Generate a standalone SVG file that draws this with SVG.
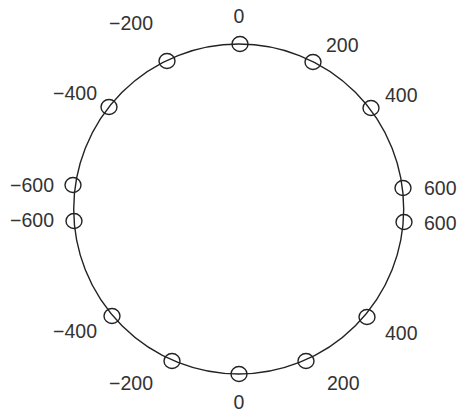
<svg xmlns="http://www.w3.org/2000/svg" width="461" height="414" viewBox="0 0 461 414">
<style>
.ring{fill:none;stroke:#222;stroke-width:1.4}
.n{fill:none;stroke:#222;stroke-width:1.4}
text{font-family:"Liberation Sans",Arial,sans-serif;font-size:19.5px;fill:#333}
.e{text-anchor:end}
.m{text-anchor:middle}
</style>
<rect width="461" height="414" fill="#fff"/>
<g id="connectors">
<circle class="ring" cx="238.7" cy="209" r="165"/>
</g>
<g id="n-top0"><ellipse class="n" cx="240" cy="44" rx="8" ry="7.5"/><text class="m" x="239" y="23">0</text></g>
<g id="n-top200"><ellipse class="n" cx="313" cy="62" rx="8" ry="7.5"/><text x="326" y="52">200</text></g>
<g id="n-top400"><ellipse class="n" cx="371" cy="108" rx="8" ry="7.5"/><text x="385" y="102">400</text></g>
<g id="n-r600a"><ellipse class="n" cx="403" cy="188" rx="8" ry="7.5"/><text x="424" y="195">600</text></g>
<g id="n-r600b"><ellipse class="n" cx="404" cy="222" rx="8" ry="7.5"/><text x="424" y="230">600</text></g>
<g id="n-bot400"><ellipse class="n" cx="367" cy="317" rx="8" ry="7.5"/><text x="385" y="340">400</text></g>
<g id="n-bot200"><ellipse class="n" cx="306" cy="361" rx="8" ry="7.5"/><text x="327" y="390">200</text></g>
<g id="n-bot0"><ellipse class="n" cx="239" cy="374" rx="8" ry="7.5"/><text class="m" x="239" y="409">0</text></g>
<g id="n-botm200"><ellipse class="n" cx="172" cy="361" rx="8" ry="7.5"/><text class="e" x="153" y="390">−200</text></g>
<g id="n-botm400"><ellipse class="n" cx="112" cy="316" rx="8" ry="7.5"/><text class="e" x="97" y="338">−400</text></g>
<g id="n-lm600b"><ellipse class="n" cx="74" cy="221" rx="8" ry="7.5"/><text class="e" x="54" y="227">−600</text></g>
<g id="n-lm600a"><ellipse class="n" cx="73" cy="185" rx="8" ry="7.5"/><text class="e" x="54" y="192">−600</text></g>
<g id="n-topm400"><ellipse class="n" cx="109" cy="107" rx="8" ry="7.5"/><text class="e" x="97" y="100">−400</text></g>
<g id="n-topm200"><ellipse class="n" cx="167" cy="61" rx="8" ry="7.5"/><text class="e" x="153" y="30">−200</text></g>
</svg>
